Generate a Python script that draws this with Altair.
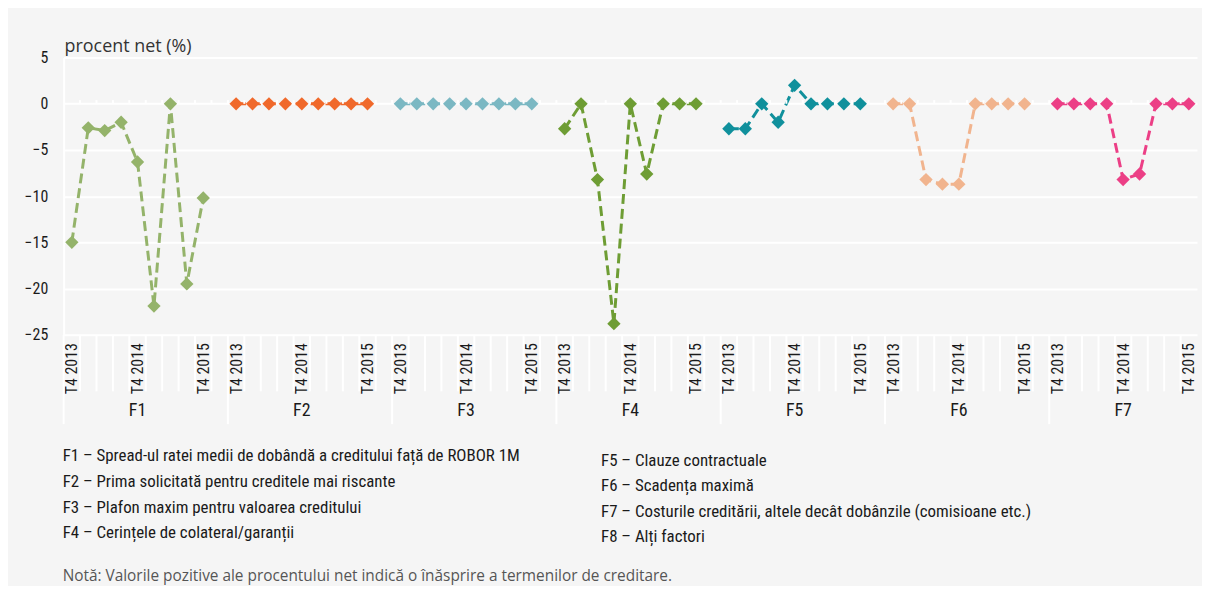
import altair as alt
import pandas as pd

groups = ["F1", "F2", "F3", "F4", "F5", "F6", "F7"]
quarters = ["T4 2013", "T1 2014", "T2 2014", "T3 2014", "T4 2014",
            "T1 2015", "T2 2015", "T3 2015", "T4 2015"]
f1 = [-15.0, -2.6, -2.9, -2.0, -6.3, -21.9, 0.0, -19.5, -10.2]
f2 = [0, 0, 0, 0, 0, 0, 0, 0, 0]
f3 = [0, 0, 0, 0, 0, 0, 0, 0, 0]
f4 = [-2.7, 0.0, -8.2, -23.8, 0.0, -7.6, 0.0, 0.0, 0.0]
f5 = [-2.7, -2.7, 0.0, -2.0, 2.0, 0.0, 0.0, 0.0, 0.0]
f6 = [0.0, 0.0, -8.2, -8.7, -8.7, 0.0, 0.0, 0.0, 0.0]
f7 = [0.0, 0.0, 0.0, 0.0, -8.2, -7.6, 0.0, 0.0, 0.0]
series = [f1, f2, f3, f4, f5, f6, f7]
colors = ["#94b36a", "#f0692b", "#7bb8c3", "#6e9d34", "#10909c", "#f1b48e", "#ec3f86"]

legend_left = [
    "F1 – Spread-ul ratei medii de dobândă a creditului față de ROBOR 1M",
    "F2 – Prima solicitată pentru creditele mai riscante",
    "F3 – Plafon maxim pentru valoarea creditului",
    "F4 – Cerințele de colateral/garanții",
]
legend_right = [
    "F5 – Clauze contractuale",
    "F6 – Scadența maximă",
    "F7 – Costurile creditării, altele decât dobânzile (comisioane etc.)",
    "F8 – Alți factori",
]
note = "Notă: Valorile pozitive ale procentului net indică o înăsprire a termenilor de creditare."
y_title = "procent net (%)"

SLOTS = 10
rows = []
for gi, (g, vals) in enumerate(zip(groups, series)):
    for qi, (q, v) in enumerate(zip(quarters, vals)):
        rows.append({"group": g, "quarter": q, "slot": gi * SLOTS + qi, "value": v})
df = pd.DataFrame(rows)

n_slots = (len(groups) - 1) * SLOTS + len(quarters)  # 69
bounds = pd.DataFrame({"slot": [k - 0.5 for k in range(1, n_slots)],
                       "long": [(k % SLOTS == 0) for k in range(1, n_slots)]})
group_lbl = pd.DataFrame({"group": groups,
                          "slot": [gi * SLOTS + 4 for gi in range(len(groups))]})

W, H = 1141, 279
NARROW = "Liberation Sans Narrow, Roboto Condensed, DejaVu Sans Condensed, Arial Narrow, sans-serif"

xscale = alt.Scale(domain=[-0.5, n_slots - 0.5], nice=False, zero=False)
yscale = alt.Scale(domain=[-25, 5], nice=False, zero=False)
label_arr = "[" + ",".join("'" + q + "'" for q in quarters) + "]"
xvals = [gi * SLOTS + q for gi in range(len(groups)) for q in (0, 4, 8)]

x_axis = alt.Axis(values=xvals, labelExpr=label_arr + "[datum.value % 10]", labelAngle=270,
                  labelAlign="right", labelBaseline="middle", labelPadding=8,
                  labelFontSize=16, labelFont=NARROW, labelColor="#1a1a1a",
                  domain=False, ticks=False, grid=False, title=None)
y_axis = alt.Axis(values=[5, 0, -5, -10, -15, -20, -25], labelFontSize=16, labelFont=NARROW,
                  labelColor="#1a1a1a", labelPadding=16, gridColor="#ffffff", gridWidth=2,
                  gridOpacity=1, domain=True, domainColor="#ffffff", domainWidth=2,
                  ticks=False, title=None)

X = alt.X("slot:Q", scale=xscale, axis=x_axis)
Y = alt.Y("value:Q", scale=yscale, axis=y_axis)
color = alt.Color("group:N", scale=alt.Scale(domain=groups, range=colors), legend=None)

base = alt.Chart(df)
lines = base.mark_line(strokeDash=[10, 5], strokeWidth=3).encode(
    x=X, y=Y, color=color, detail="group:N")
points = base.mark_point(shape="diamond", filled=True, size=180, opacity=1).encode(
    x=X, y=Y, color=color)

zero_ticks = alt.Chart(bounds).mark_rule(color="#ffffff", strokeWidth=2).encode(
    x=X, y=alt.datum(0), y2=alt.datum(0.4))
short_rules = alt.Chart(bounds).transform_filter("!datum.long").mark_rule(
    color="#ffffff", strokeWidth=2).encode(
    x=X, y=alt.value(H), y2=alt.value(H + 57))
long_rules = alt.Chart(bounds).transform_filter("datum.long").mark_rule(
    color="#ffffff", strokeWidth=2).encode(
    x=X, y=alt.value(H), y2=alt.value(H + 90))
left_rule = alt.Chart(group_lbl).transform_filter("datum.group == 'F1'").mark_rule(
    color="#ffffff", strokeWidth=2).encode(
    x=alt.value(0), y=alt.value(H), y2=alt.value(H + 90))

glabels = alt.Chart(group_lbl).mark_text(fontSize=18, font=NARROW, color="#1a1a1a",
                                         baseline="middle").encode(
    x=X, y=alt.value(H + 77), text="group:N")

layers = [lines, zero_ticks, short_rules, long_rules, left_rule, points, glabels]


def text_layer(txt, x, y, size, font, col):
    d = pd.DataFrame({"t": [txt]})
    return alt.Chart(d).mark_text(align="left", baseline="middle", fontSize=size,
                                  font=font, color=col).encode(
        x=alt.value(x), y=alt.value(y), text="t:N")


layers.append(text_layer(y_title, 1, -11, 18, "Open Sans, Noto Sans, sans-serif", "#333333"))
for i, t in enumerate(legend_left):
    layers.append(text_layer(t, -1, 401 + i * 26, 17, NARROW, "#1a1a1a"))
for i, t in enumerate(legend_right):
    layers.append(text_layer(t, 541, 406 + i * 25.5, 17, NARROW, "#1a1a1a"))
layers.append(text_layer(note, -1, 522, 15.5, "Open Sans, Noto Sans, sans-serif", "#555555"))

chart = alt.layer(*layers).properties(
    width=W, height=H,
    autosize=alt.AutoSizeParams(type="none"),
    padding={"left": 56, "top": 48, "right": 5, "bottom": 251},
    background="#f5f5f5",
).configure_view(stroke=None)

chart.save("out.html", embed_options={"renderer": "svg", "actions": False})
